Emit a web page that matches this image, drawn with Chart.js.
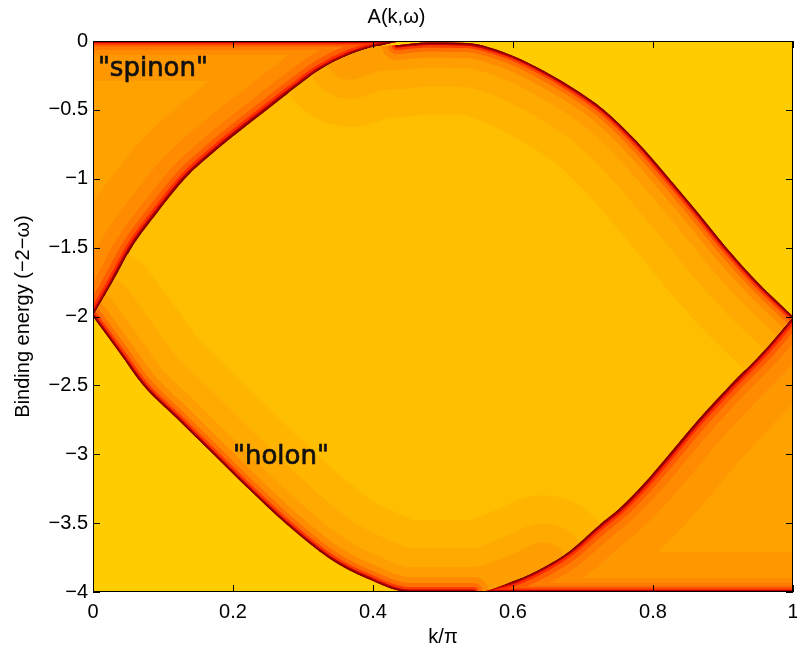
<!DOCTYPE html>
<html><head><meta charset="utf-8">
<script src="https://cdn.jsdelivr.net/npm/chart.js@4/dist/chart.umd.min.js"></script>
<style>html,body{margin:0;padding:0;background:#fff}#wrap{width:797px;height:652px}</style>
</head><body><div id="wrap"><canvas id="c" width="797" height="652"></canvas></div>
<script>
// ---- data ----
const kTicks = [0, 0.2, 0.4, 0.6, 0.8, 1];
const energyTicks = [0, -0.5, -1, -1.5, -2, -2.5, -3, -3.5, -4];

// upper-left edge of the continuum (spinon branch)
const spinonEdgeK = [0, 0.027, 0.055, 0.091, 0.131, 0.181, 0.248, 0.286, 0.324, 0.367, 0.405, 0.44];
const spinonEdgeE = [-2, -1.76, -1.5, -1.25, -1.0, -0.77, -0.5, -0.35, -0.21, -0.10, -0.04, 0];
// upper-right edge
const upperEdgeK = [0.434, 0.48, 0.534, 0.591, 0.634, 0.682, 0.73, 0.777, 0.82, 0.863, 0.903, 0.949, 1];
const upperEdgeE = [-0.03, -0.01, -0.015, -0.09, -0.19, -0.33, -0.5, -0.73, -0.98, -1.24, -1.49, -1.75, -2];
// lower-left edge (holon branch)
const holonEdgeK = [0, 0.039, 0.072, 0.12, 0.172, 0.224, 0.277, 0.339, 0.391, 0.453];
const holonEdgeE = [-2, -2.27, -2.5, -2.74, -3.0, -3.26, -3.51, -3.76, -3.9, -4];
// lower-right edge
const lowerEdgeK = [0.544, 0.605, 0.643, 0.681, 0.724, 0.753, 0.786, 0.82, 0.863, 0.91, 0.958, 1];
const lowerEdgeE = [-4, -3.91, -3.82, -3.70, -3.51, -3.39, -3.22, -3.02, -2.76, -2.50, -2.25, -2];
// frame edges carrying spectral weight
const topEdgeK = [0, 0.44];
const topEdgeE = [0, 0];
const bottomEdgeK = [0.544, 1];
const bottomEdgeE = [-4, -4];

// ---- styles ----
const BG = '#ffcc00';
const OUTER_CORE = '#ffa200';
const LENS_CORE = '#ffbf00';
// [half width along the curve, half width along the frame edge, colour]
const outerBands = [
  [58, 40, '#ff9800'], [30, 14, '#ff8c00'], [17, 9, '#ff7a00'], [10, 5.5, '#ff5c00'],
  [5.5, 3.5, '#ff2c00'], [3, 2, '#c00000'], [1.5, 1, '#780000']];
// [half width, colour, follows the extended (wide) path?]
const innerBands = [
  [72, '#ffb500', true], [44, '#ffaa00', true], [25, '#ff9e00', true], [15, '#ff8c00', false],
  [9, '#ff6e00', false], [5, '#ff3c00', false], [2.6, '#c80000', false], [1.3, '#780000', false]];

const pts = (ks, es) => ks.map((k, i) => ({x: k, y: es[i]}));
const A = pts(spinonEdgeK, spinonEdgeE);
const B = pts(upperEdgeK, upperEdgeE);
const C = pts(holonEdgeK, holonEdgeE);
const D = pts(lowerEdgeK, lowerEdgeE);
const TOP = pts(topEdgeK, topEdgeE);
const BOT = pts(bottomEdgeK, bottomEdgeE);
const lensTop = A.filter(p => p.x <= 0.41).concat(B);
const lensBottom = C.concat(D);
const upperWidePath = lensTop.filter(p => p.x >= 0.33);
const holonWidePath = lensBottom.filter(p => p.x <= 0.65);
const holonNarrowPath = C.concat([D[0]]);

const datasets = [];
const base = {pointRadius: 0, pointHoverRadius: 0, borderWidth: 0, borderColor: 'rgba(0,0,0,0)',
  cubicInterpolationMode: 'monotone', fill: false, clip: 0, borderJoinStyle: 'round', borderCapStyle: 'round'};
function add(o) { datasets.push(Object.assign({}, base, o)); return datasets.length - 1; }
function band(data, hw, col, region) {
  add({data, borderWidth: 2 * hw, borderColor: col, clipRegion: region});
}

// regions
const iSpinon = add({data: A, fill: {value: 0}, backgroundColor: OUTER_CORE});
const iLower = add({data: D, fill: {value: -4}, backgroundColor: OUTER_CORE});
const iLensBottom = add({data: lensBottom});
const iLensTop = add({data: lensTop, fill: iLensBottom, backgroundColor: LENS_CORE});
// contour bands, each clipped to its own region
outerBands.forEach(([hw, he, col]) => {
  band(A, hw, col, 'spinon'); band(TOP, he, col, 'spinon');
  band(D, hw, col, 'lower'); band(BOT, he, col, 'lower');
});
innerBands.forEach(([hw, col, wide]) => {
  band(wide ? upperWidePath : B, hw, col, 'lens');
  band(wide ? holonWidePath : holonNarrowPath, hw, col, 'lens');
});
datasets.forEach((d, i) => { d.order = -i; });

const notes = [{text: '"spinon"', k: 0.007, e: -0.255}, {text: '"holon"', k: 0.2, e: -3.07}];

function clipTo(ctx, line, corners) {
  ctx.beginPath();
  line.path(ctx);
  corners.forEach(([x, y]) => ctx.lineTo(x, y));
  ctx.closePath();
  ctx.clip();
}

const frame = {
  id: 'frame',
  beforeDatasetsDraw(chart) {
    const {ctx, chartArea: a} = chart;
    ctx.save(); ctx.fillStyle = BG;
    ctx.fillRect(a.left, a.top, a.right - a.left, a.bottom - a.top);
    ctx.restore();
  },
  beforeDatasetDraw(chart, args) {
    const region = chart.data.datasets[args.index].clipRegion;
    if (!region) return;
    const ctx = chart.ctx, a = chart.chartArea;
    const line = i => chart.getDatasetMeta(i).dataset;
    ctx.save();
    if (region === 'spinon') clipTo(ctx, line(iSpinon), [[a.left, a.top]]);
    if (region === 'lower') clipTo(ctx, line(iLower), [[a.right, a.bottom]]);
    if (region === 'lens') {
      clipTo(ctx, line(iLensTop), [[a.right, a.bottom], [a.left, a.bottom]]);
      clipTo(ctx, line(iLensBottom), [[a.right, a.top], [a.left, a.top]]);
    }
  },
  afterDatasetDraw(chart, args) {
    if (chart.data.datasets[args.index].clipRegion) chart.ctx.restore();
  },
  afterDatasetsDraw(chart) {
    const {ctx, chartArea: a, scales: {x, y}} = chart;
    ctx.save();
    ctx.fillStyle = '#111'; ctx.strokeStyle = '#111'; ctx.lineWidth = 0.7;
    ctx.font = '26px "DejaVu Sans"';
    ctx.textBaseline = 'alphabetic'; ctx.textAlign = 'left';
    notes.forEach(n => {
      const px = x.getPixelForValue(n.k), py = y.getPixelForValue(n.e);
      ctx.fillText(n.text, px, py); ctx.strokeText(n.text, px, py);
    });
    ctx.strokeStyle = '#000'; ctx.lineWidth = 1;
    ctx.beginPath();
    const L = 7;
    kTicks.forEach(k => {
      const px = Math.round(x.getPixelForValue(k)) + 0.5;
      ctx.moveTo(px, a.bottom); ctx.lineTo(px, a.bottom - L);
      ctx.moveTo(px, a.top); ctx.lineTo(px, a.top + L);
    });
    energyTicks.forEach(e => {
      const py = Math.round(y.getPixelForValue(e)) + 0.5;
      ctx.moveTo(a.left, py); ctx.lineTo(a.left + L, py);
      ctx.moveTo(a.right, py); ctx.lineTo(a.right - L, py);
    });
    ctx.rect(a.left + 0.5, a.top + 0.5, a.right - a.left - 1, a.bottom - a.top - 1);
    ctx.stroke();
    ctx.restore();
  }
};

const fmt = v => String(v).replace('-', '\u2212');
const FONT = {family: '"Liberation Sans", Arial, sans-serif', size: 20};

new Chart(document.getElementById('c'), {
  type: 'line',
  data: {datasets},
  options: {
    responsive: false, animation: false, devicePixelRatio: 1, events: [],
    layout: {padding: {left: 0, right: 4, top: 0, bottom: 0}},
    plugins: {
      legend: {display: false}, tooltip: {enabled: false},
      title: {display: true, text: 'A(k,\u03c9)', color: '#000', font: {...FONT, weight: 'normal'},
              padding: {top: 5, bottom: 12}}
    },
    scales: {
      x: {type: 'linear', min: 0, max: 1,
          afterBuildTicks: s => { s.ticks = kTicks.map(v => ({value: v})); },
          afterFit: s => { s.height = 60; s.paddingLeft = 0; s.paddingRight = 0; },
          grid: {display: false, drawTicks: false}, border: {display: false},
          ticks: {color: '#000', font: FONT, padding: 8, maxRotation: 0, callback: v => fmt(v)},
          title: {display: true, text: 'k/\u03c0', color: '#000', font: FONT, padding: {top: 0, bottom: 3}}},
      y: {type: 'linear', min: -4, max: 0,
          afterBuildTicks: s => { s.ticks = energyTicks.map(v => ({value: v})); },
          afterFit: s => { s.width = 93; s.paddingTop = 0; s.paddingBottom = 0; },
          grid: {display: false, drawTicks: false}, border: {display: false},
          ticks: {color: '#000', font: FONT, padding: 5, callback: v => fmt(v)},
          title: {display: true, text: 'Binding energy (\u22122\u2212\u03c9)', color: '#000', font: FONT,
                  padding: {top: 11, bottom: 0}}}
    }
  },
  plugins: [frame]
});
</script></body></html>
